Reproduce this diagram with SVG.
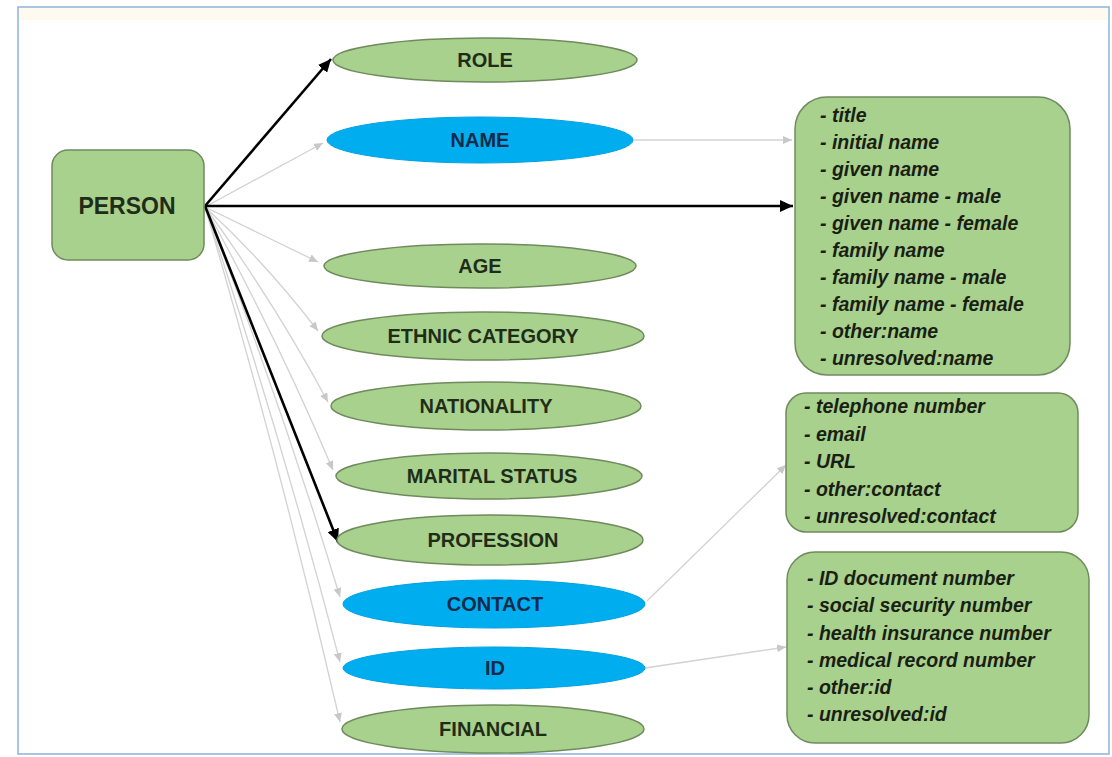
<svg xmlns="http://www.w3.org/2000/svg" width="1112" height="757" viewBox="0 0 1112 757">
<defs>
<style>
.frame{fill:#ffffff;stroke:#8fb3da;stroke-width:1.5}
.g{fill:#a9d18e;stroke:#6f8a5c;stroke-width:1.5}
.b{fill:#00aeef;stroke:#00a2e0;stroke-width:1}
.lbl{font-family:"Liberation Sans",Arial,sans-serif;font-weight:bold;font-size:20px;text-anchor:middle;fill:#1f2d18}
.lblb{font-family:"Liberation Sans",Arial,sans-serif;font-weight:bold;font-size:20px;text-anchor:middle;fill:#132a4a}
.item{font-family:"Liberation Sans",Arial,sans-serif;font-weight:bold;font-style:italic;font-size:19.5px;fill:#1a1f14}
.blk{stroke:#000;stroke-width:2.6;fill:none}
.gry{stroke:#d2d2d2;stroke-width:1.3;fill:none}
</style>
<marker id="ab" markerUnits="userSpaceOnUse" markerWidth="13" markerHeight="12" viewBox="0 0 13 12" refX="13" refY="6" orient="auto">
<path d="M0,0 L13,6 L0,12 z" fill="#000"/>
</marker>
<marker id="ag" markerUnits="userSpaceOnUse" markerWidth="9" markerHeight="8" viewBox="0 0 9 8" refX="9" refY="4" orient="auto">
<path d="M0,0 L9,4 L0,8 z" fill="#c8c8c8"/>
</marker>
</defs>
<rect class="frame" x="18" y="7" width="1091" height="747"/>
<rect x="19" y="8" width="1089" height="12" fill="#fffaf0"/>

<g id="connectors">
<path class="gry" d="M205,207 L323,143" marker-end="url(#ag)"/>
<path class="gry" d="M205,207 L318,262" marker-end="url(#ag)"/>
<path class="gry" d="M205,207 Q267,264 318,331" marker-end="url(#ag)"/>
<path class="gry" d="M205,207 Q273,300 328,402" marker-end="url(#ag)"/>
<path class="gry" d="M205,207 Q276,335 333,470" marker-end="url(#ag)"/>
<path class="gry" d="M205,207 Q280,399 340,597" marker-end="url(#ag)"/>
<path class="gry" d="M205,207 Q280,432 340,662" marker-end="url(#ag)"/>
<path class="gry" d="M205,207 Q280,462 340,722" marker-end="url(#ag)"/>
<path class="gry" d="M634,140 L792,140" marker-end="url(#ag)"/>
<path class="gry" d="M647,601 L786,465" marker-end="url(#ag)"/>
<path class="gry" d="M645,668 L786,647" marker-end="url(#ag)"/>
<path class="blk" d="M205,206 L331,59" marker-end="url(#ab)"/>
<path class="blk" d="M205,206 L793,206" marker-end="url(#ab)"/>
<path class="blk" d="M205,206 L338,542" marker-end="url(#ab)"/>
</g>

<g id="person">
<rect class="g" x="52" y="150" width="152" height="110" rx="16"/>
<text class="lbl" x="127" y="214" style="font-size:23px">PERSON</text>
</g>
<g id="role"><ellipse class="g" cx="485" cy="60" rx="152" ry="22"/><text class="lbl" x="485" y="67">ROLE</text></g>
<g id="name"><ellipse class="b" cx="480" cy="140" rx="153" ry="23"/><text class="lblb" x="480" y="147">NAME</text></g>
<g id="age"><ellipse class="g" cx="480" cy="266" rx="156" ry="22"/><text class="lbl" x="480" y="273">AGE</text></g>
<g id="ethnic"><ellipse class="g" cx="483" cy="336" rx="161" ry="24"/><text class="lbl" x="483" y="343">ETHNIC CATEGORY</text></g>
<g id="nationality"><ellipse class="g" cx="486" cy="406" rx="155" ry="24"/><text class="lbl" x="486" y="413">NATIONALITY</text></g>
<g id="marital"><ellipse class="g" cx="489" cy="476" rx="153" ry="23"/><text class="lbl" x="492" y="483">MARITAL STATUS</text></g>
<g id="profession"><ellipse class="g" cx="490" cy="540" rx="153" ry="25"/><text class="lbl" x="493" y="547">PROFESSION</text></g>
<g id="contact"><ellipse class="b" cx="494" cy="604" rx="151" ry="24"/><text class="lblb" x="495" y="611">CONTACT</text></g>
<g id="id"><ellipse class="b" cx="494" cy="668" rx="151" ry="21"/><text class="lblb" x="495" y="675">ID</text></g>
<g id="financial"><ellipse class="g" cx="493" cy="729" rx="151" ry="24"/><text class="lbl" x="493" y="736">FINANCIAL</text></g>

<g id="name-details">
<rect class="g" x="795" y="97" width="275" height="278" rx="32"/>
<text class="item" x="820" y="122">- title</text>
<text class="item" x="820" y="149">- initial name</text>
<text class="item" x="820" y="176">- given name</text>
<text class="item" x="820" y="203">- given name - male</text>
<text class="item" x="820" y="230">- given name - female</text>
<text class="item" x="820" y="257">- family name</text>
<text class="item" x="820" y="284">- family name - male</text>
<text class="item" x="820" y="311">- family name - female</text>
<text class="item" x="820" y="338">- other:name</text>
<text class="item" x="820" y="365">- unresolved:name</text>
</g>
<g id="contact-details">
<rect class="g" x="786" y="393" width="292" height="139" rx="20"/>
<text class="item" x="804" y="413">- telephone number</text>
<text class="item" x="804" y="441">- email</text>
<text class="item" x="804" y="468">- URL</text>
<text class="item" x="804" y="496">- other:contact</text>
<text class="item" x="804" y="523">- unresolved:contact</text>
</g>
<g id="id-details">
<rect class="g" x="787" y="552" width="302" height="191" rx="28"/>
<text class="item" x="807" y="585">- ID document number</text>
<text class="item" x="807" y="612">- social security number</text>
<text class="item" x="807" y="640">- health insurance number</text>
<text class="item" x="807" y="667">- medical record number</text>
<text class="item" x="807" y="694">- other:id</text>
<text class="item" x="807" y="721">- unresolved:id</text>
</g>
</svg>
